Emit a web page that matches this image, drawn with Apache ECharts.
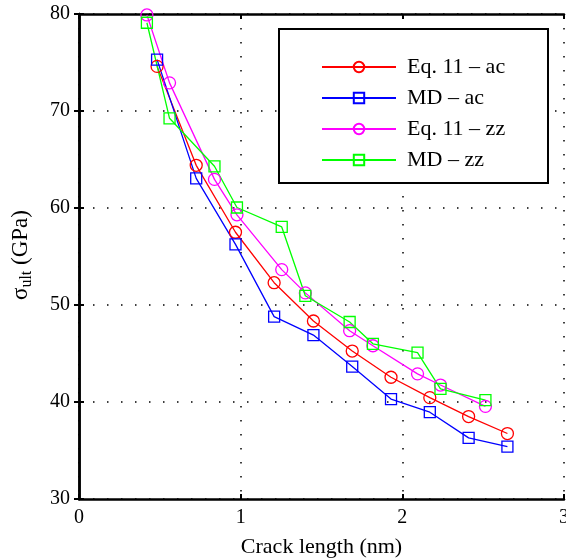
<!DOCTYPE html>
<html>
<head>
<meta charset="utf-8">
<script src="https://cdn.jsdelivr.net/npm/echarts@6/dist/echarts.min.js"></script>
<style>
  html, body { margin: 0; padding: 0; background: #fff; }
  #chart { width: 566px; height: 559px; }
</style>
</head>
<body>
<div id="chart"></div>
<script>
// crack lengths (nm)
const acX = [0.483, 0.725, 0.968, 1.207, 1.45, 1.69, 1.93, 2.17, 2.41, 2.65]
const zzX = [0.42, 0.56, 0.838, 0.977, 1.254, 1.40, 1.674, 1.818, 2.094, 2.236, 2.514]
// ultimate strength (GPa)
const eqAc = [74.6, 64.4, 57.5, 52.3, 48.35, 45.25, 42.55, 40.45, 38.5, 36.75]
const mdAc = [75.3, 63.05, 56.25, 48.8, 46.9, 43.65, 40.3, 38.95, 36.3, 35.4]
const eqZz = [79.9, 72.9, 62.95, 59.3, 53.65, 51.25, 47.35, 45.8, 42.9, 41.75, 39.55]
const mdZz = [79.1, 69.25, 64.3, 60.05, 58.05, 50.95, 48.25, 46.0, 45.1, 41.35, 40.2]
const xTicks = [0, 1, 2, 3]
const yTicks = [30, 40, 50, 60, 70, 80]

const font = "'Liberation Serif', 'Times New Roman', serif"
const pair = (xs, ys) => xs.map((x, i) => [x, ys[i]])

const chart = echarts.init(document.getElementById('chart'))

const dotted = { show: true, lineStyle: { color: '#000', width: 1.5, type: [1.5, 12.5] } }

function line(name, xs, ys, color, symbol) {
  return {
    name: name,
    type: 'line',
    data: pair(xs, ys),
    symbol: symbol,
    symbolSize: symbol === 'circle' ? 12 : 11,
    clip: false,
    lineStyle: { color: color, width: 1.3 },
    itemStyle: { color: 'rgba(255,255,255,0)', borderColor: color, borderWidth: 1.3 },
    emphasis: { disabled: true },
    animation: false
  }
}

const option = {
  animation: false,
  grid: { left: 79, top: 14, width: 485, height: 485, show: false, containLabel: false, outerBoundsMode: 'none' },
  xAxis: [
    {
      type: 'value', min: xTicks[0], max: xTicks[xTicks.length - 1], interval: 1,
      axisLine: { lineStyle: { color: '#000', width: 2.5 } },
      axisTick: { inside: true, length: 5, lineStyle: { color: '#000', width: 2 } },
      axisLabel: { color: '#000', fontSize: 20, fontFamily: font, margin: 9 },
      splitLine: dotted,
      name: 'Crack length (nm)', nameLocation: 'middle', nameGap: 37,
      nameTextStyle: { color: '#000', fontSize: 22, fontFamily: font }
    },
    {
      type: 'value', position: 'top', min: 0, max: 3, interval: 1,
      axisLine: { lineStyle: { color: '#000', width: 2.5 } },
      axisTick: { inside: true, length: 5, lineStyle: { color: '#000', width: 2 } },
      axisLabel: { show: false }, splitLine: { show: false }
    }
  ],
  yAxis: [
    {
      type: 'value', min: yTicks[0], max: yTicks[yTicks.length - 1], interval: 10,
      axisLine: { lineStyle: { color: '#000', width: 2.5 } },
      axisTick: { inside: true, length: 5, lineStyle: { color: '#000', width: 2 } },
      axisLabel: { color: '#000', fontSize: 20, fontFamily: font, margin: 9 },
      splitLine: dotted
    },
    {
      type: 'value', position: 'right', min: 30, max: 80, interval: 10,
      axisLine: { lineStyle: { color: '#000', width: 2.5 } },
      axisTick: { inside: true, length: 5, lineStyle: { color: '#000', width: 2 } },
      axisLabel: { show: false }, splitLine: { show: false }
    }
  ],
  graphic: [
    {
      type: 'rect', z: 1,
      shape: { x: 279, y: 29, width: 269, height: 154 },
      style: { fill: '#fff', stroke: '#000', lineWidth: 2 }
    },
    {
      type: 'text', z: 5, x: 21, y: 255, rotation: Math.PI / 2,
      style: {
        text: '{s|σ}{sub|ult}{s| (GPa)}',
        align: 'center', verticalAlign: 'middle',
        fill: '#000', font: '22px ' + font,
        rich: {
          s: { fontSize: 23, fontFamily: font, fill: '#000', lineHeight: 28, verticalAlign: 'middle' },
          sub: { fontSize: 16, fontFamily: font, fill: '#000', lineHeight: 28, verticalAlign: 'bottom', padding: [10, 0, 0, 0] }
        }
      }
    }
  ],
  legend: {
    orient: 'vertical', left: 316, top: 51, z: 5,
    itemWidth: 74, itemHeight: 13, itemGap: 9,
    textStyle: { color: '#000', fontSize: 22, fontFamily: font, padding: [0, 0, 0, 6] },
    selectedMode: false,
    data: ['Eq. 11 – ac', 'MD – ac', 'Eq. 11 – zz', 'MD – zz']
  },
  series: [
    line('Eq. 11 – ac', acX, eqAc, '#ff0000', 'circle'),
    line('MD – ac', acX, mdAc, '#0000ff', 'rect'),
    line('Eq. 11 – zz', zzX, eqZz, '#ff00ff', 'circle'),
    line('MD – zz', zzX, mdZz, '#00ff00', 'rect')
  ]
}

chart.setOption(option)
</script>
</body>
</html>
